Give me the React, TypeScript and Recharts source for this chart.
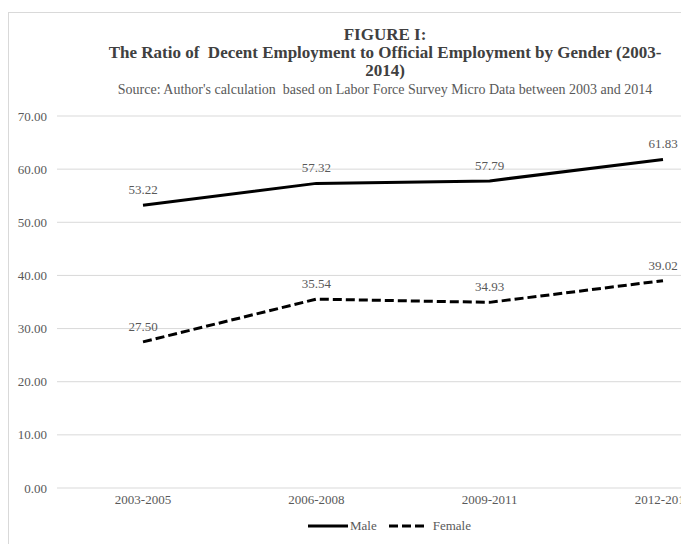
import { CartesianGrid, LabelList, Line, LineChart, XAxis, YAxis } from 'recharts';

const periods = ['2003-2005', '2006-2008', '2009-2011', '2012-2014'];
const maleRatio = [53.22, 57.32, 57.79, 61.83];
const femaleRatio = [27.5, 35.54, 34.93, 39.02];
const yTicks = [0, 10, 20, 30, 40, 50, 60, 70];

const data = periods.map((period, i) => ({
  period,
  male: maleRatio[i],
  female: femaleRatio[i],
}));

const FONT = '"Liberation Serif", "DejaVu Serif", serif';
const GREY = '#595959';

export default function App() {
  return (
    <div
      style={{
        position: 'absolute',
        left: 0,
        top: 0,
        width: 681,
        height: 544,
        overflow: 'hidden',
        background: '#fff',
        fontFamily: FONT,
      }}
    >
      <div
        style={{
          position: 'absolute',
          left: 8,
          top: 12,
          width: 780,
          height: 600,
          border: '1px solid #d9d9d9',
        }}
      />
      <div style={{ position: 'absolute', left: 0, top: 0 }}>
        <LineChart
          width={800}
          height={544}
          data={data}
          margin={{ top: 116, right: 51, bottom: 36, left: 0 }}
        >
          <CartesianGrid vertical={false} stroke="#d9d9d9" />
          <XAxis
            dataKey="period"
            axisLine={false}
            tickLine={false}
            tickSize={0}
            tickMargin={7}
            height={20}
            padding={{ left: 86, right: 86 }}
            tick={{ fill: GREY, fontSize: 13, fontFamily: FONT }}
          />
          <YAxis
            domain={[0, 70]}
            ticks={yTicks}
            width={57}
            axisLine={false}
            tickLine={false}
            tickSize={0}
            tickMargin={10}
            tickFormatter={(v) => v.toFixed(2)}
            tick={{ fill: GREY, fontSize: 13, fontFamily: FONT }}
          />
          <Line
            dataKey="male"
            stroke="#000"
            strokeWidth={3}
            dot={false}
            isAnimationActive={false}
          >
            <LabelList
              dataKey="male"
              position="top"
              offset={11}
              formatter={(v: number) => v.toFixed(2)}
              style={{ fill: GREY, fontSize: 13, fontFamily: FONT }}
            />
          </Line>
          <Line
            dataKey="female"
            stroke="#000"
            strokeWidth={3}
            strokeDasharray="9 4"
            dot={false}
            isAnimationActive={false}
          >
            <LabelList
              dataKey="female"
              position="top"
              offset={11}
              formatter={(v: number) => v.toFixed(2)}
              style={{ fill: GREY, fontSize: 13, fontFamily: FONT }}
            />
          </Line>
        </LineChart>
      </div>
      <div
        style={{
          position: 'absolute',
          left: 35,
          width: 700,
          top: 26,
          textAlign: 'center',
          fontWeight: 'bold',
          fontSize: 17,
          lineHeight: '18px',
          color: '#404040',
        }}
      >
        FIGURE I:
        <br />
        The Ratio of&nbsp; Decent Employment to Official Employment by Gender (2003-
        <br />
        2014)
      </div>
      <div
        style={{
          position: 'absolute',
          left: 35,
          width: 700,
          top: 82,
          textAlign: 'center',
          fontSize: 14,
          color: GREY,
        }}
      >
        Source: Author's calculation&nbsp; based on Labor Force Survey Micro Data between 2003 and 2014
      </div>
      <div
        style={{
          position: 'absolute',
          left: 308,
          top: 518,
          display: 'flex',
          alignItems: 'center',
          fontSize: 13,
          color: GREY,
        }}
      >
        <svg width={40} height={6}>
          <line x1={0} y1={3} x2={40} y2={3} stroke="#000" strokeWidth={3} />
        </svg>
        <span style={{ marginLeft: 2 }}>Male</span>
        <svg width={36} height={6} style={{ marginLeft: 12 }}>
          <line x1={0} y1={3} x2={36} y2={3} stroke="#000" strokeWidth={3} strokeDasharray="9 4" />
        </svg>
        <span style={{ marginLeft: 8 }}>Female</span>
      </div>
    </div>
  );
}
